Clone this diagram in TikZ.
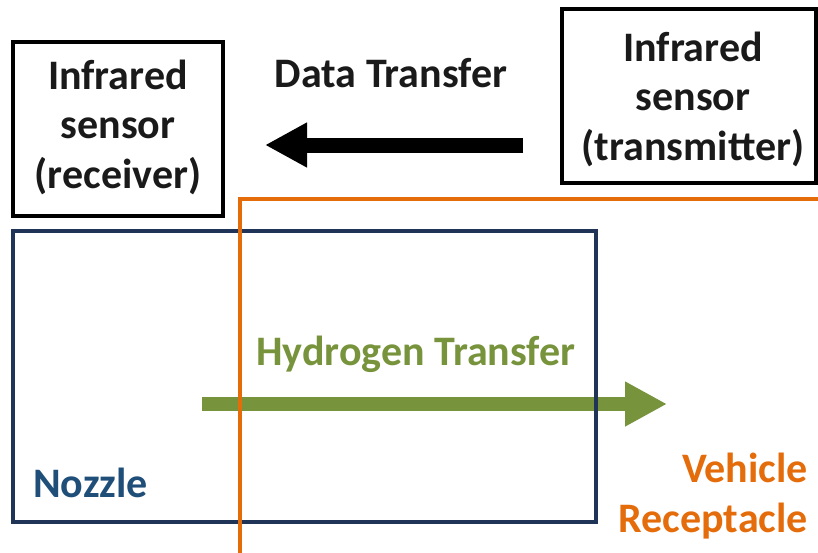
\documentclass[tikz,border=0pt]{standalone}
\usepackage{fontspec}
\setmainfont{Carlito}
\usetikzlibrary{arrows.meta}
\definecolor{navyline}{HTML}{1F3456}
\definecolor{navytext}{HTML}{1F4E79}
\definecolor{hgreen}{HTML}{77933C}
\definecolor{vorange}{HTML}{E46C0A}
\definecolor{txtblack}{HTML}{1A1A1A}
\begin{document}
\begin{tikzpicture}[x=1pt,y=-1pt,
  lbl/.style={font=\bfseries\fontsize{42}{49.5}\selectfont, align=center, inner sep=0pt},
  sensorbox/.style={draw=black, line width=3.5pt, inner sep=0pt},
  fatarrow/.style={line width=#1, -{Triangle[width=42pt,length=42pt]}}]
\useasboundingbox (0,0) rectangle (818,552);
\clip (0,0) rectangle (818,552);
\fill[white] (0,0) rectangle (818,552);

% hydrogen transfer arrow (under the outlines)
\coordinate (h1) at (202,404);
\coordinate (h2) at (667,404);
\draw[fatarrow=14pt, hgreen] (h1) -- (h2);

% nozzle outline
\draw[navyline, line width=3.5pt] (13,231) rectangle (596,522);
% vehicle receptacle outline
\draw[vorange, line width=3.5pt] (240,560) -- (240,199) -- (830,199);

% sensor boxes
\node[sensorbox, minimum width=210pt, minimum height=174pt] (rx) at (118,129) {};
\node[lbl, text=txtblack, anchor=base] (rxt) at (118,188) {Infrared\\sensor\\(receiver)};
\node[sensorbox, minimum width=254pt, minimum height=174pt] (tx) at (689,96) {};
\node[lbl, text=txtblack, anchor=base] (txt) at (693,160) {Infrared\\sensor\\(transmitter)};

% data transfer arrow
\coordinate (d1) at (523,145);
\coordinate (d2) at (265,145);
\draw[fatarrow=15pt, black] (d1) -- (d2);

% labels
\node[lbl, text=txtblack, anchor=base] (dt) at (391,87) {Data Transfer};
\node[lbl, text=hgreen, anchor=base] (ht) at (416,365) {Hydrogen Transfer};
\node[lbl, text=navytext, anchor=base west] (nz) at (33,497) {Nozzle};
\node[lbl, text=vorange, align=right, anchor=base east] (vr) at (808,532) {Vehicle\\Receptacle};
\end{tikzpicture}
\end{document}
